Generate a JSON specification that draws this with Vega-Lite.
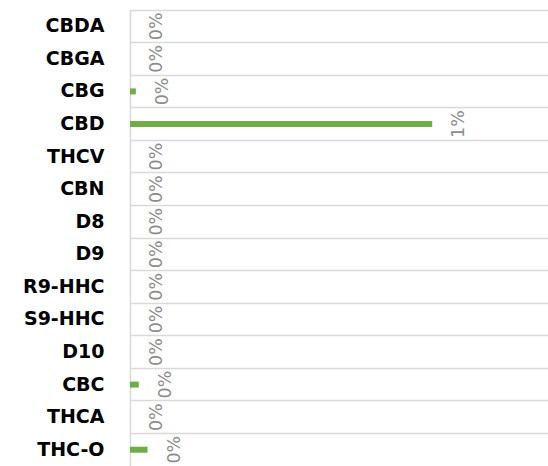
{
  "$schema": "https://vega.github.io/schema/vega-lite/v6.json",
  "width": 418,
  "height": 456,
  "autosize": {"type": "none"},
  "padding": {"left": 130, "top": 10, "right": 0, "bottom": 0},
  "background": "white",
  "config": {"view": {"stroke": null}},
  "data": {
    "values": [
      {"compound": "CBDA", "value": 0},
      {"compound": "CBGA", "value": 0},
      {"compound": "CBG", "value": 0.00014},
      {"compound": "CBD", "value": 0.00723},
      {"compound": "THCV", "value": 0},
      {"compound": "CBN", "value": 0},
      {"compound": "D8", "value": 0},
      {"compound": "D9", "value": 0},
      {"compound": "R9-HHC", "value": 0},
      {"compound": "S9-HHC", "value": 0},
      {"compound": "D10", "value": 0},
      {"compound": "CBC", "value": 0.00021},
      {"compound": "THCA", "value": 0},
      {"compound": "THC-O", "value": 0.00042}
    ]
  },
  "encoding": {
    "y": {
      "field": "compound",
      "type": "nominal",
      "sort": null,
      "scale": {"paddingInner": 0, "paddingOuter": 0},
      "axis": {
        "title": null,
        "ticks": false,
        "bandPosition": 0,
        "grid": true,
        "gridColor": "#D9D9D9",
        "gridWidth": 1.5,
        "domainColor": "#D9D9D9",
        "domainWidth": 1.5,
        "labelFont": "DejaVu Sans",
        "labelFontWeight": "bold",
        "labelFontSize": 19,
        "labelColor": "#000000",
        "labelPadding": 26,
        "labelAlign": "right",
        "labelBaseline": "middle"
      }
    },
    "x": {
      "field": "value",
      "type": "quantitative",
      "scale": {"domain": [0, 0.01], "nice": false},
      "axis": null
    }
  },
  "layer": [
    {"mark": {"type": "bar", "color": "#70AD47", "size": 6}},
    {
      "mark": {
        "type": "text",
        "angle": 270,
        "align": "center",
        "baseline": "middle",
        "dy": 27,
        "font": "DejaVu Sans",
        "fontSize": 17.5,
        "color": "#8C8C8C"
      },
      "encoding": {"text": {"field": "value", "type": "quantitative", "format": ".0%"}}
    }
  ]
}
